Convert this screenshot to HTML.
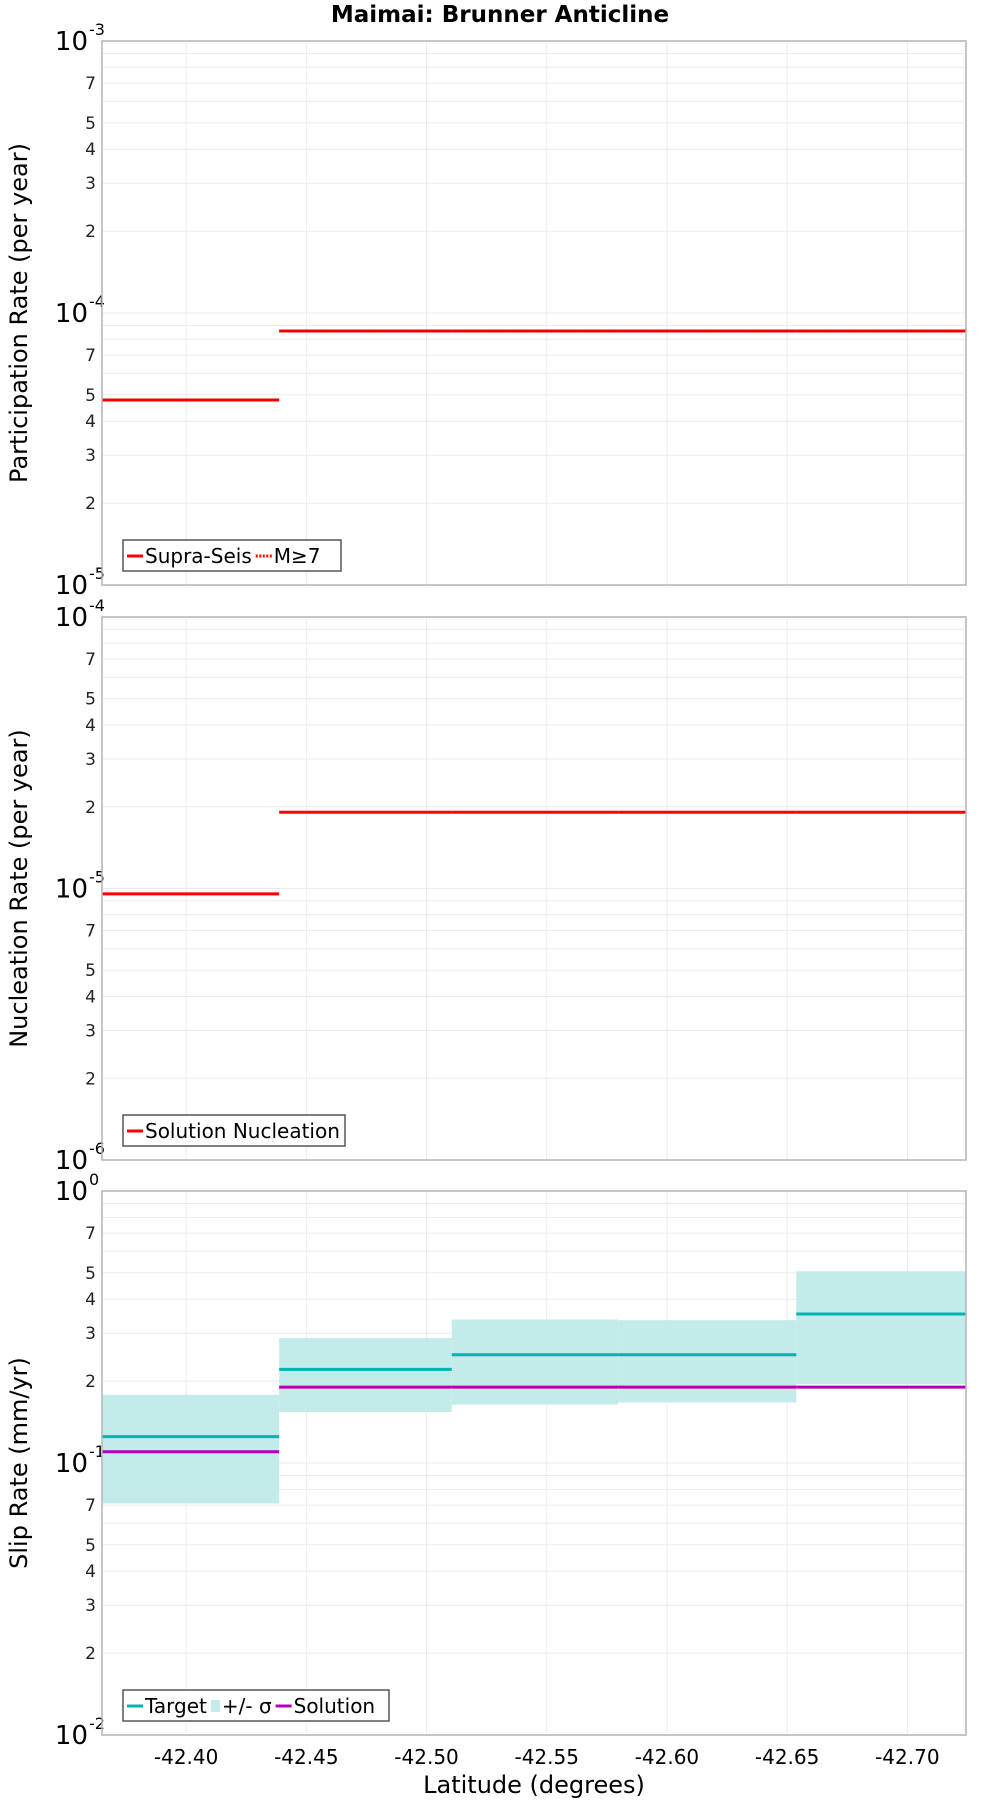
<!DOCTYPE html>
<html><head><meta charset="utf-8">
<style>
html,body{margin:0;padding:0;background:#fff;}
svg{display:block;font-family:"DejaVu Sans","Liberation Sans",sans-serif;}
</style></head>
<body>
<svg id="chart" width="1000" height="1800" viewBox="0 0 1000 1800" xmlns="http://www.w3.org/2000/svg">
<text x="500" y="22" text-anchor="middle" font-size="23" font-weight="bold">Maimai: Brunner Anticline</text>
<g id="root"></g>
</svg>
<script>
// x-axis data
const xTicks = [-42.40, -42.45, -42.50, -42.55, -42.60, -42.65, -42.70];
const xTickLabels = ["-42.40","-42.45","-42.50","-42.55","-42.60","-42.65","-42.70"];
const xMin = -42.365, xMax = -42.7244;
// segment boundaries (latitude)
const segEdges = [-42.365, -42.4387, -42.5105, -42.5797, -42.6538, -42.7244];
// panel 1: participation
const supraSeis = [4.79e-5, 8.59e-5, 8.59e-5, 8.59e-5, 8.59e-5];
const m7 = [4.79e-5, 8.59e-5, 8.59e-5, 8.59e-5, 8.59e-5];
// panel 2: nucleation
const nucleation = [9.55e-6, 1.91e-5, 1.91e-5, 1.91e-5, 1.91e-5];
// panel 3: slip rate
const target = [0.125, 0.221, 0.250, 0.250, 0.353];
const sigmaHigh = [0.178, 0.288, 0.337, 0.335, 0.507];
const sigmaLow = [0.071, 0.154, 0.164, 0.167, 0.195];
const solution = [0.110, 0.190, 0.190, 0.190, 0.190];

const NS = "http://www.w3.org/2000/svg";
const root = document.getElementById('root');
const L = 102, R = 966;
function X(v){ return L + (v - xMin) / (xMax - xMin) * (R - L); }
function mk(tag, attrs, parent){
  const e = document.createElementNS(NS, tag);
  for (const k in attrs) e.setAttribute(k, attrs[k]);
  (parent || root).appendChild(e);
  return e;
}
const panels = [
  {top:41, bot:585, lo:-5, hi:-3, title:"Participation Rate (per year)", name:"participation"},
  {top:617, bot:1160, lo:-6, hi:-4, title:"Nucleation Rate (per year)", name:"nucleation"},
  {top:1191, bot:1735, lo:-2, hi:0, title:"Slip Rate (mm/yr)", name:"slip-rate"}
];
function Yf(p){ return v => p.bot - (Math.log10(v) - p.lo) / (p.hi - p.lo) * (p.bot - p.top); }

panels.forEach((p, pi) => {
  const g = mk('g', {});
  
  
  const Y = Yf(p);
  for (let d = p.lo; d < p.hi; d++) {
    for (let m = 1; m <= 9; m++) {
      const v = m * Math.pow(10, d);
      const y = Y(v);
      const gl = mk('line', {x1:L, x2:R, y1:y, y2:y, stroke:'#ebebeb', 'stroke-width':1}, g);
      
      
      if (m === 1) {
        const t = mk('text', {x:88, y:y+9, 'text-anchor':'end', 'font-size':26}, g);
        
        
        t.textContent = '10';
        const s = mk('text', {x:89, y:y-6, 'font-size':16}, g);
        
        
        s.textContent = String(d);
      } else if ([2,3,4,5,7].includes(m)) {
        const t = mk('text', {x:96, y:y+6, 'text-anchor':'end', 'font-size':17, fill:'#222'}, g);
        
        
        t.textContent = String(m);
      }
    }
  }
  const tt = mk('text', {x:88, y:p.top+9, 'text-anchor':'end', 'font-size':26}, g);
  
  
  tt.textContent = '10';
  const ts = mk('text', {x:89, y:p.top-6, 'font-size':16}, g);
  
  
  ts.textContent = String(p.hi);
  xTicks.forEach(v => {
    const gl = mk('line', {x1:X(v), x2:X(v), y1:p.top, y2:p.bot, stroke:'#ebebeb', 'stroke-width':1}, g);
    
    
  });
  const cy = (p.top + p.bot) / 2;
  const at = mk('text', {x:0, y:0, transform:`translate(27,${cy}) rotate(-90)`, 'text-anchor':'middle', 'font-size':24}, g);
  
  
  at.textContent = p.title;

  const seg = (arr, color, w, name, dash) => {
    arr.forEach((v, i) => {
      const a = {x1:X(segEdges[i]), x2:X(segEdges[i+1]), y1:Y(v), y2:Y(v), stroke:color, 'stroke-width':w};
      if (dash) a['stroke-dasharray'] = dash;
      const l = mk('line', a, g);
      
      
    });
  };
  if (pi === 0) {
    seg(supraSeis, '#ff0000', 3, 'supra-seis');
    seg(m7, '#cc0000', 1.2, 'm7', '1.5,1.5');
  } else if (pi === 1) {
    seg(nucleation, '#ff0000', 3, 'solution-nucleation');
  } else {
    sigmaHigh.forEach((v, i) => {
      const r = mk('rect', {x:X(segEdges[i]), y:Y(v), width:X(segEdges[i+1]) - X(segEdges[i]), height:Y(sigmaLow[i]) - Y(v), fill:'#c2ebea'}, g);
      
      
    });
    seg(target, '#00b4b4', 3, 'target');
    seg(solution, '#b400b4', 3, 'solution');
  }
  const fr = mk('rect', {x:L, y:p.top, width:R-L, height:p.bot-p.top, fill:'none', stroke:'#b4b4b4', 'stroke-width':1.5}, g);
  
  

  const lg = mk('g', {}, g);
  
  
  const ly = p.bot - 30;
  let items, w;
  if (pi === 0) { items = [['line','#ff0000','Supra-Seis',null],['line','#ff0000','M≥7','2,1.5']]; w = 218; }
  else if (pi === 1) { items = [['line','#ff0000','Solution Nucleation',null]]; w = 222; }
  else { items = [['line','#00b4b4','Target',null],['rect','#c2ebea','+/- σ',null],['line','#b400b4','Solution',null]]; w = 266; }
  mk('rect', {x:123, y:ly-15, width:w, height:31, fill:'#fff', stroke:'#555', 'stroke-width':1.5}, lg);
  let x = 127;
  items.forEach(it => {
    const e = mk('g', {}, lg);
    
    
    if (it[0] === 'line') {
      const a = {x1:x, x2:x+16, y1:ly+1, y2:ly+1, stroke:it[1], 'stroke-width':3};
      if (it[3]) a['stroke-dasharray'] = it[3];
      mk('line', a, e);
      x += 18;
    } else {
      mk('rect', {x:x, y:ly-5, width:9, height:12, fill:it[1]}, e);
      x += 11;
    }
    const t = mk('text', {x:x, y:ly+8, 'font-size':20}, e);
    t.textContent = it[2];
    x += t.getComputedTextLength() + 4;
  });
});
const p3 = panels[2];
xTicks.forEach((v, i) => {
  const t = mk('text', {x:X(v), y:p3.bot+29, 'text-anchor':'middle', 'font-size':20});
  
  
  t.textContent = xTickLabels[i];
});
const xt = mk('text', {x:534, y:1793, 'text-anchor':'middle', 'font-size':24});


xt.textContent = 'Latitude (degrees)';
</script>
</body></html>
